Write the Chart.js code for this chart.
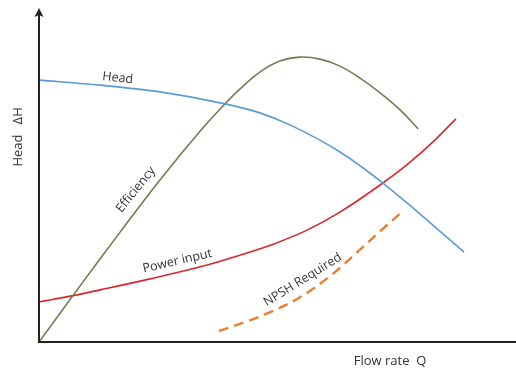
<!DOCTYPE html>
<html>
<head>
<meta charset="utf-8">
<script src="https://cdn.jsdelivr.net/npm/chart.js@4/dist/chart.umd.min.js"></script>
<style>
html,body{margin:0;padding:0;background:#fff;}
#wrap{width:516px;height:369px;position:relative;}
</style>
</head>
<body>
<div id="wrap"><canvas id="c" width="516" height="369"></canvas></div>
<script>
// Flow rate (Q) and values, in relative units 0..100
const headQ = [0, 12.8, 25.4, 39.0, 46.3, 52.6, 63.1, 72.1, 79.9, 89.1];
const headH = [78.4, 76.9, 74.9, 71.3, 68.6, 65.0, 56.9, 47.6, 38.3, 26.9];

const effQ = [0, 8.6, 17.0, 25.4, 33.8, 39.0, 42.1, 46.3, 50.5, 54.7, 58.9, 63.1, 67.3, 71.5, 75.7, 79.5];
const effV = [0, 16.8, 32.9, 48.6, 63.2, 71.3, 75.7, 80.8, 84.1, 85.3, 84.7, 82.6, 79.0, 74.6, 69.5, 63.8];

const powQ = [0, 6.9, 12.8, 23.3, 33.8, 42.1, 49.1, 56.2, 63.1, 72.1, 77.1, 82.6, 87.4];
const powV = [12.0, 13.8, 15.6, 18.9, 22.5, 26.0, 29.3, 33.5, 38.9, 47.6, 53.0, 59.9, 66.8];

const npshQ = [37.7, 46.1, 54.5, 61.6, 66.5, 71.3, 76.3];
const npshV = [3.3, 7.5, 13.2, 20.4, 26.6, 32.9, 39.2];

const seriesNames = ["Head", "Efficiency", "Power input", "NPSH Required"];
const axisTitles = {x: "Flow rate  Q", y: "Head   ΔH"};

const pts = (xs, ys) => xs.map((x, i) => ({x, y: ys[i]}));

const curveLabels = [
  {text: seriesNames[0], q: 16.5, v: 79.0, angle: 6},
  {text: seriesNames[1], q: 20.3, v: 45.6, angle: -51},
  {text: seriesNames[2], q: 29.0, v: 24.2, angle: -13},
  {text: seriesNames[3], q: 55.3, v: 18.6, angle: -32}
];

const overlay = {
  id: 'overlay',
  afterDatasetsDraw(chart) {
    const {ctx, chartArea: a, scales: {x, y}} = chart;
    ctx.save();
    // axes
    ctx.strokeStyle = '#222';
    ctx.fillStyle = '#222';
    ctx.lineWidth = 2;
    ctx.beginPath();
    ctx.moveTo(a.left, a.bottom);
    ctx.lineTo(a.right, a.bottom);
    ctx.stroke();
    ctx.beginPath();
    ctx.moveTo(a.left, a.bottom + 1);
    ctx.lineTo(a.left, a.top + 6);
    ctx.stroke();
    ctx.beginPath();
    ctx.moveTo(a.left, a.top);
    ctx.lineTo(a.left - 4.5, a.top + 9);
    ctx.lineTo(a.left, a.top + 7);
    ctx.lineTo(a.left + 4.5, a.top + 9);
    ctx.closePath();
    ctx.fill();

    // curve labels
    ctx.fillStyle = '#333';
    ctx.font = '12.5px "Open Sans"';
    ctx.textAlign = 'center';
    ctx.textBaseline = 'middle';
    curveLabels.forEach(l => {
      ctx.save();
      ctx.translate(x.getPixelForValue(l.q), y.getPixelForValue(l.v));
      ctx.rotate(l.angle * Math.PI / 180);
      ctx.fillText(l.text, 0, 0);
      ctx.restore();
    });

    // axis titles
    ctx.font = '13px "Open Sans"';
    ctx.fillText(axisTitles.x, x.getPixelForValue(73.6), a.bottom + 19);
    ctx.save();
    ctx.translate(a.left - 21, y.getPixelForValue(61.4));
    ctx.rotate(-Math.PI / 2);
    ctx.fillText(axisTitles.y, 0, 0);
    ctx.restore();
    ctx.restore();
  }
};

const common = {pointRadius: 0, borderWidth: 1.6, cubicInterpolationMode: 'monotone'};

new Chart(document.getElementById('c'), {
  type: 'line',
  data: {
    datasets: [
      {...common, label: seriesNames[0], data: pts(headQ, headH), borderColor: '#5B9BD5'},
      {...common, label: seriesNames[1], data: pts(effQ, effV), borderColor: '#6E7F50', cubicInterpolationMode: 'default', tension: 0.4},
      {...common, label: seriesNames[2], data: pts(powQ, powV), borderColor: '#D9262C'},
      {...common, label: seriesNames[3], data: pts(npshQ, npshV), borderColor: '#ED7D31', borderWidth: 2.4, borderDash: [10, 6]}
    ]
  },
  options: {
    responsive: false,
    animation: false,
    layout: {padding: {left: 39, right: 0, top: 8, bottom: 27}},
    plugins: {legend: {display: false}, tooltip: {enabled: false}},
    scales: {
      x: {type: 'linear', min: 0, max: 100, display: false},
      y: {type: 'linear', min: 0, max: 100, display: false}
    }
  },
  plugins: [overlay]
});
</script>
</body>
</html>
